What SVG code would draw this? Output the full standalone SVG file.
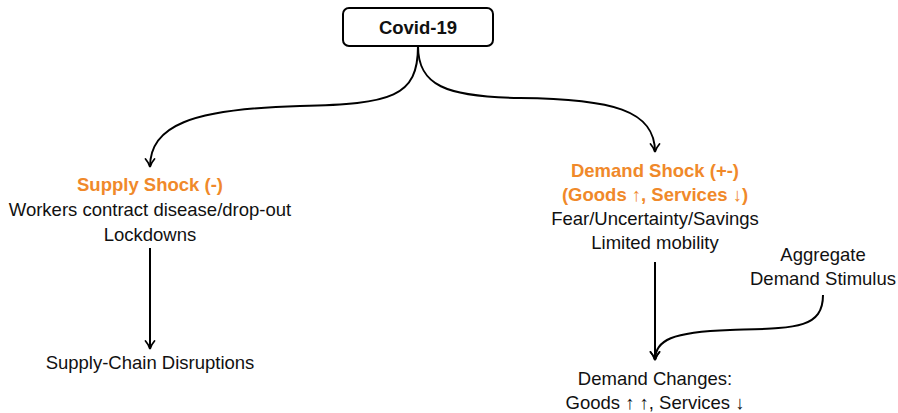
<svg xmlns="http://www.w3.org/2000/svg" width="898" height="413" viewBox="0 0 898 413">
  <defs>
    <style>
      text { font-family: "Liberation Sans", "DejaVu Sans", sans-serif; font-size: 18.5px; fill: #111; text-anchor: middle; }
      .title { font-weight: bold; }
      .shock { font-weight: bold; fill: #f0892a; }
      .edge { fill: none; stroke: #000; stroke-width: 2; }
    </style>
    <marker id="arrow" viewBox="0 0 12 12" refX="10" refY="6" markerWidth="12" markerHeight="12" markerUnits="userSpaceOnUse" orient="auto">
      <path d="M2,1.5 Q6,5 10,6 Q6,7 2,10.5" fill="none" stroke="#000" stroke-width="1.8" stroke-linecap="round"/>
    </marker>
  </defs>
  <rect width="898" height="413" fill="#fff"/>

  <!-- connectors -->
  <g id="connectors">
    <path class="edge" marker-end="url(#arrow)" d="M418,46 C418,97 392,104 300,106 C190,109 150,126 150,167"/>
    <path class="edge" marker-end="url(#arrow)" d="M418,46 C418,85 445,97 520,98 C612,99 655,110 655,152"/>
    <path class="edge" marker-end="url(#arrow)" d="M150,248 L150,349"/>
    <path class="edge" marker-end="url(#arrow)" d="M655,262 L655,360"/>
    <path class="edge" marker-end="url(#arrow)" d="M823,295 C823,330 792,328 730,330 C672,332 655,340 655,360"/>
  </g>

  <!-- nodes -->
  <g id="covid">
    <rect x="343" y="8" width="150" height="38" rx="6" fill="#fff" stroke="#000" stroke-width="2"/>
    <text class="title" x="418" y="34">Covid-19</text>
  </g>
  <g id="supply-shock">
    <text class="shock" x="150" y="191">Supply Shock (-)</text>
    <text x="150" y="216">Workers contract disease/drop-out</text>
    <text x="150" y="241">Lockdowns</text>
  </g>
  <g id="supply-chain">
    <text x="150" y="369">Supply-Chain Disruptions</text>
  </g>
  <g id="demand-shock">
    <text class="shock" x="655" y="177">Demand Shock (+-)</text>
    <text class="shock" x="655" y="201">(Goods ↑, Services ↓)</text>
    <text x="655" y="225">Fear/Uncertainty/Savings</text>
    <text x="655" y="249">Limited mobility</text>
  </g>
  <g id="stimulus">
    <text x="823" y="261">Aggregate</text>
    <text x="823" y="285">Demand Stimulus</text>
  </g>
  <g id="demand-changes">
    <text x="655" y="385">Demand Changes:</text>
    <text x="655" y="409">Goods ↑ ↑, Services ↓</text>
  </g>
</svg>
